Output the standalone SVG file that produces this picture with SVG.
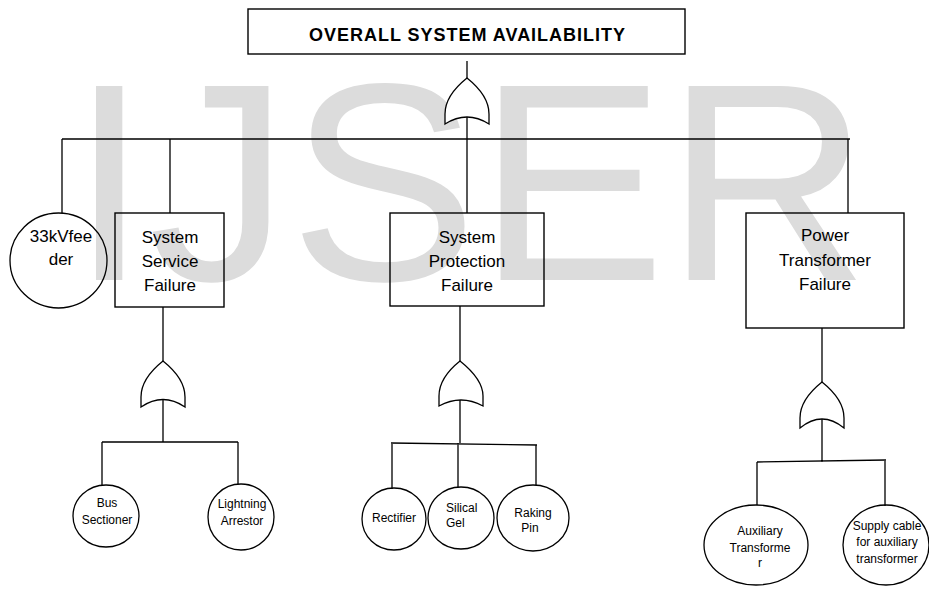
<svg xmlns="http://www.w3.org/2000/svg" width="929" height="589" viewBox="0 0 929 589">
<style>
.wm{font-family:"Liberation Sans",Arial,sans-serif;font-size:282px;fill:#dcdcdc}
.box{fill:none;stroke:#000;stroke-width:1.4}
.ev{fill:none;stroke:#000;stroke-width:1.3}
.gate{fill:#fff;stroke:#000;stroke-width:1.3}
.ln{fill:none;stroke:#000;stroke-width:1.3}
.t{font-family:"Liberation Sans",Arial,sans-serif;font-size:17px;fill:#000;text-anchor:middle}
.s{font-family:"Liberation Sans",Arial,sans-serif;font-size:12px;fill:#000;text-anchor:middle}
.h{font-family:"Liberation Sans",Arial,sans-serif;font-size:18px;font-weight:bold;fill:#000;text-anchor:middle}
</style>
<rect width="929" height="589" fill="#fff"/>
<text class="wm" x="70" y="280">IJSER</text>

<g id="connectors">
<path class="ln" d="M467,61V78 M467,117V213 M62,139H850 M62,139V213 M170,139V213 M848,139V213"/>
<path class="ln" d="M163,307V361 M163,399V442 M102,442H238 M102,442V486 M238,442V484"/>
<path class="ln" d="M460,306V361 M460,400V443 M391,443L537,445 M392,443V489 M458,443V487 M536,445V485"/>
<path class="ln" d="M822,328V382 M822,419V462 M757,462L886,460 M757,462V505 M885,460V506"/>
</g>

<g id="top">
<rect class="box" x="248" y="9" width="437" height="45"/>
<text class="h" x="467" y="41" textLength="316" lengthAdjust="spacing">OVERALL SYSTEM AVAILABILITY</text>
</g>
<g id="gate-top">
<path class="gate" d="M467,78 C457,86 445,98 445,114 L445,124 Q467,110 489,124 L489,114 C489,98 477,86 467,78 Z"/>
</g>

<g id="feeder">
<ellipse class="ev" cx="58.5" cy="260.5" rx="48.5" ry="47.5"/>
<text class="t" x="61" y="242">33kVfee</text>
<text class="t" x="61" y="265">der</text>
</g>

<g id="service">
<rect class="box" x="115" y="213" width="109" height="94"/>
<text class="t" x="170" y="243">System</text>
<text class="t" x="170" y="267">Service</text>
<text class="t" x="170" y="291">Failure</text>
</g>
<g id="gate-service">
<path class="gate" d="M163,361 C153,369 141,381 141,397 L141,407 Q163,392 185,407 L185,397 C185,381 173,369 163,361 Z"/>
</g>
<g id="bus-sectioner">
<ellipse class="ev" cx="106" cy="516" rx="33" ry="31"/>
<text class="s" x="107" y="507">Bus</text>
<text class="s" x="107" y="524">Sectioner</text>
</g>
<g id="lightning">
<ellipse class="ev" cx="241" cy="517" rx="33" ry="33"/>
<text class="s" x="242" y="508">Lightning</text>
<text class="s" x="242" y="525">Arrestor</text>
</g>

<g id="protection">
<rect class="box" x="390" y="213" width="154" height="93"/>
<text class="t" x="467" y="243">System</text>
<text class="t" x="467" y="267">Protection</text>
<text class="t" x="467" y="291">Failure</text>
</g>
<g id="gate-protection">
<path class="gate" d="M460,361 C450,369 439,381 439,396 L439,406 Q461,394 483,406 L483,396 C483,381 470,369 460,361 Z"/>
</g>
<g id="rectifier">
<ellipse class="ev" cx="394" cy="519" rx="32" ry="31"/>
<text class="s" x="394" y="522">Rectifier</text>
</g>
<g id="silical">
<ellipse class="ev" cx="461" cy="518" rx="33" ry="31"/>
<text class="s" x="446" y="512" style="text-anchor:start">Silical</text>
<text class="s" x="446" y="527" style="text-anchor:start">Gel</text>
</g>
<g id="raking">
<ellipse class="ev" cx="533" cy="518" rx="36" ry="33"/>
<text class="s" x="533" y="517">Raking</text>
<text class="s" x="530" y="532">Pin</text>
</g>

<g id="power">
<rect class="box" x="746" y="213" width="158" height="115"/>
<text class="t" x="825" y="241">Power</text>
<text class="t" x="825" y="266">Transformer</text>
<text class="t" x="825" y="290">Failure</text>
</g>
<g id="gate-power">
<path class="gate" d="M822,382 C812,390 800,402 800,418 L800,428 Q822,410 844,428 L844,418 C844,402 832,390 822,382 Z"/>
</g>
<g id="aux-transformer">
<ellipse class="ev" cx="756" cy="545" rx="52" ry="40"/>
<text class="s" x="760" y="535">Auxiliary</text>
<text class="s" x="760" y="552">Transforme</text>
<text class="s" x="760" y="567">r</text>
</g>
<g id="supply-cable">
<ellipse class="ev" cx="886" cy="545" rx="43" ry="40"/>
<text class="s" x="887" y="530">Supply cable</text>
<text class="s" x="887" y="546">for auxiliary</text>
<text class="s" x="887" y="563">transformer</text>
</g>
</svg>
